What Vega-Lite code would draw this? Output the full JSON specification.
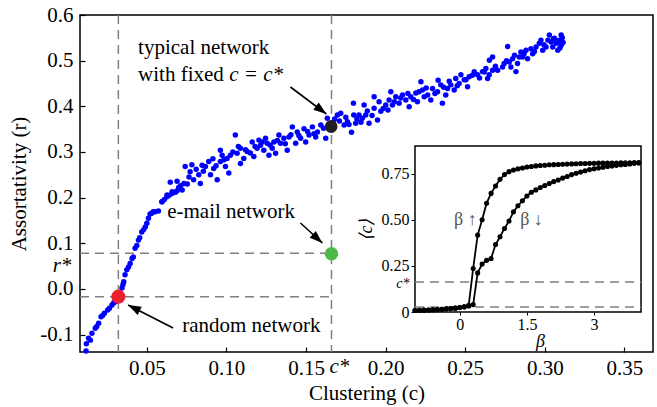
{
 "$schema": "https://vega.github.io/schema/vega-lite/v6.json",
 "width": 573, "height": 337,
 "autosize": {"type": "none"},
 "padding": {"left": 80, "top": 15, "right": 4, "bottom": 55},
 "background": "white",
 "config": {
  "view": {"stroke": "black", "strokeWidth": 1.5},
  "font": "Liberation Serif",
  "axis": {"labelFont": "Liberation Serif", "titleFont": "Liberation Serif", "labelColor": "black", "titleColor": "black", "grid": false, "titleFontWeight": "normal", "tickColor": "black", "labelOverlap": false},
  "text": {"font": "Liberation Serif"}
 },
 "datasets": {
  "pts": [
   {"c":0.0118,"r":-0.136},{"c":0.0120,"r":-0.120},{"c":0.0134,"r":-0.108},{"c":0.0145,"r":-0.112},{"c":0.0155,"r":-0.097},{"c":0.0176,"r":-0.086},{"c":0.0185,"r":-0.082},{"c":0.0197,"r":-0.075},{"c":0.0212,"r":-0.061},{"c":0.0222,"r":-0.058},{"c":0.0233,"r":-0.053},{"c":0.0254,"r":-0.046},{"c":0.0265,"r":-0.042},{"c":0.0281,"r":-0.035},{"c":0.0292,"r":-0.030},{"c":0.0302,"r":-0.028},{"c":0.0344,"r":0.002},{"c":0.0350,"r":0.010},{"c":0.0355,"r":0.016},{"c":0.0363,"r":0.031},{"c":0.0374,"r":0.042},{"c":0.0385,"r":0.048},{"c":0.0395,"r":0.056},{"c":0.0407,"r":0.067},{"c":0.0415,"r":0.070},{"c":0.0426,"r":0.089},{"c":0.0437,"r":0.095},{"c":0.0447,"r":0.107},{"c":0.0455,"r":0.112},{"c":0.0468,"r":0.125},{"c":0.0480,"r":0.130},{"c":0.0490,"r":0.136},{"c":0.0500,"r":0.144},{"c":0.0510,"r":0.155},{"c":0.0520,"r":0.164},{"c":0.0530,"r":0.166},{"c":0.0552,"r":0.169},{"c":0.0573,"r":0.171},{"c":0.0594,"r":0.191},{"c":0.0610,"r":0.196},{"c":0.0626,"r":0.202},{"c":0.0640,"r":0.205},{"c":0.0658,"r":0.209},{"c":0.0690,"r":0.215},
   {"c":0.0540,"r":0.169},{"c":0.0596,"r":0.191},{"c":0.0627,"r":0.206},{"c":0.0659,"r":0.213},{"c":0.0680,"r":0.212},{"c":0.0647,"r":0.234},{"c":0.0690,"r":0.236},{"c":0.0722,"r":0.217},{"c":0.0733,"r":0.231},{"c":0.0754,"r":0.230},{"c":0.0741,"r":0.268},{"c":0.0772,"r":0.257},{"c":0.0783,"r":0.272},{"c":0.0794,"r":0.239},{"c":0.0826,"r":0.250},{"c":0.0836,"r":0.231},{"c":0.0847,"r":0.271},{"c":0.0868,"r":0.268},{"c":0.0889,"r":0.279},{"c":0.0900,"r":0.250},{"c":0.0920,"r":0.264},{"c":0.0942,"r":0.239},{"c":0.0962,"r":0.304},{"c":0.0962,"r":0.279},{"c":0.0973,"r":0.293},{"c":0.0994,"r":0.268},{"c":0.1015,"r":0.254},{"c":0.1004,"r":0.286},{"c":0.1025,"r":0.293},{"c":0.1056,"r":0.337},{"c":0.1067,"r":0.297},{"c":0.1088,"r":0.308},{"c":0.1088,"r":0.275},{"c":0.1109,"r":0.286},{"c":0.1130,"r":0.301},{"c":0.1162,"r":0.322},{"c":0.1172,"r":0.290},{"c":0.1193,"r":0.308},{"c":0.1204,"r":0.326},{"c":0.1214,"r":0.315},{"c":0.1235,"r":0.304},{"c":0.1246,"r":0.330},{"c":0.1256,"r":0.319},{"c":0.1267,"r":0.293},{"c":0.1288,"r":0.308},{"c":0.1298,"r":0.322},{"c":0.1309,"r":0.297},{"c":0.1330,"r":0.337},{"c":0.1340,"r":0.319},{"c":0.1361,"r":0.330},{"c":0.1382,"r":0.304},{"c":0.1393,"r":0.333},{"c":0.1414,"r":0.355},{"c":0.1435,"r":0.319},{"c":0.1445,"r":0.344},{"c":0.1466,"r":0.330},{"c":0.1487,"r":0.351},{"c":0.1498,"r":0.322},{"c":0.1519,"r":0.337},{"c":0.1540,"r":0.355},{"c":0.1561,"r":0.333},{"c":0.1572,"r":0.344},{"c":0.1593,"r":0.359},{"c":0.1624,"r":0.330},{"c":0.1634,"r":0.374},
   {"c":0.0700,"r":0.222},{"c":0.0712,"r":0.226},{"c":0.0765,"r":0.245},{"c":0.0810,"r":0.262},{"c":0.0855,"r":0.258},{"c":0.0915,"r":0.285},{"c":0.0935,"r":0.270},{"c":0.0985,"r":0.283},{"c":0.1040,"r":0.300},{"c":0.1075,"r":0.312},{"c":0.1120,"r":0.305},{"c":0.1150,"r":0.298},{"c":0.1180,"r":0.312},{"c":0.1225,"r":0.322},{"c":0.1275,"r":0.315},{"c":0.1320,"r":0.325},{"c":0.1370,"r":0.318},{"c":0.1405,"r":0.338},{"c":0.1455,"r":0.336},{"c":0.1510,"r":0.345},{"c":0.1550,"r":0.340},{"c":0.1610,"r":0.352},{"c":0.1645,"r":0.360},{"c":0.1660,"r":0.348},{"c":0.1670,"r":0.365},
   {"c":0.1697,"r":0.381},{"c":0.1718,"r":0.385},{"c":0.1739,"r":0.359},{"c":0.1760,"r":0.366},{"c":0.1786,"r":0.343},{"c":0.1798,"r":0.407},{"c":0.1800,"r":0.381},{"c":0.1812,"r":0.363},{"c":0.1833,"r":0.381},{"c":0.1854,"r":0.374},{"c":0.1865,"r":0.403},{"c":0.1875,"r":0.381},{"c":0.1896,"r":0.363},{"c":0.1928,"r":0.421},{"c":0.1928,"r":0.396},{"c":0.1949,"r":0.370},{"c":0.1959,"r":0.410},{"c":0.1970,"r":0.389},{"c":0.2001,"r":0.403},{"c":0.2022,"r":0.414},{"c":0.2033,"r":0.432},{"c":0.2043,"r":0.403},{"c":0.2064,"r":0.421},{"c":0.2085,"r":0.407},{"c":0.2106,"r":0.425},{"c":0.2127,"r":0.414},{"c":0.2148,"r":0.399},{"c":0.2158,"r":0.421},{"c":0.2190,"r":0.429},{"c":0.2200,"r":0.410},{"c":0.2222,"r":0.454},{"c":0.2232,"r":0.436},{"c":0.2243,"r":0.421},{"c":0.2264,"r":0.425},{"c":0.2284,"r":0.414},{"c":0.2295,"r":0.439},{"c":0.2326,"r":0.432},{"c":0.2330,"r":0.457},{"c":0.2347,"r":0.447},{"c":0.2357,"r":0.407},{"c":0.2378,"r":0.425},{"c":0.2389,"r":0.439},{"c":0.2410,"r":0.447},{"c":0.2431,"r":0.436},{"c":0.2441,"r":0.461},{"c":0.2462,"r":0.450},{"c":0.2473,"r":0.469},{"c":0.2494,"r":0.458},{"c":0.2515,"r":0.443},{"c":0.2525,"r":0.465},{"c":0.2557,"r":0.476},{"c":0.2578,"r":0.469},{"c":0.2609,"r":0.476},{"c":0.2630,"r":0.483},{"c":0.2641,"r":0.461},{"c":0.2651,"r":0.469},{"c":0.2672,"r":0.479},{"c":0.2652,"r":0.501},{"c":0.2672,"r":0.508},{"c":0.2704,"r":0.479},{"c":0.2735,"r":0.486},{"c":0.2745,"r":0.494},{"c":0.2767,"r":0.531},{"c":0.2777,"r":0.497},{"c":0.2787,"r":0.486},{"c":0.2798,"r":0.504},{"c":0.2819,"r":0.476},{"c":0.2829,"r":0.494},{"c":0.2840,"r":0.508},{"c":0.2850,"r":0.519},{"c":0.2861,"r":0.508},{"c":0.2882,"r":0.523},{"c":0.2892,"r":0.504},{"c":0.2913,"r":0.526},{"c":0.2924,"r":0.515},{"c":0.2945,"r":0.530},{"c":0.2966,"r":0.538},{"c":0.2976,"r":0.545},{"c":0.2987,"r":0.523},{"c":0.3008,"r":0.530},{"c":0.3029,"r":0.556},{"c":0.3040,"r":0.541},{"c":0.3050,"r":0.530},{"c":0.3061,"r":0.549},{"c":0.3071,"r":0.538},{"c":0.3082,"r":0.523},{"c":0.3092,"r":0.545},{"c":0.3103,"r":0.556},{"c":0.3103,"r":0.534},
   {"c":0.1680,"r":0.372},{"c":0.1710,"r":0.368},{"c":0.1750,"r":0.376},{"c":0.1770,"r":0.360},{"c":0.1820,"r":0.372},{"c":0.1845,"r":0.365},{"c":0.1885,"r":0.390},{"c":0.1915,"r":0.380},{"c":0.1985,"r":0.395},{"c":0.2015,"r":0.392},{"c":0.2055,"r":0.410},{"c":0.2095,"r":0.418},{"c":0.2140,"r":0.428},{"c":0.2175,"r":0.415},{"c":0.2210,"r":0.432},{"c":0.2255,"r":0.440},{"c":0.2310,"r":0.428},{"c":0.2365,"r":0.442},{"c":0.2400,"r":0.455},{"c":0.2450,"r":0.445},{"c":0.2505,"r":0.458},{"c":0.2545,"r":0.468},{"c":0.2590,"r":0.462},{"c":0.2620,"r":0.475},{"c":0.2690,"r":0.488},{"c":0.2760,"r":0.500},{"c":0.2810,"r":0.512},{"c":0.2870,"r":0.515},{"c":0.2935,"r":0.520},{"c":0.2995,"r":0.535},{"c":0.3020,"r":0.545},{"c":0.3055,"r":0.548},{"c":0.3085,"r":0.540},{"c":0.3110,"r":0.550},{"c":0.3115,"r":0.540},{"c":0.3095,"r":0.528}
  ],
  "special": [
   {"name":"random","c":0.0321,"r":-0.0168},
   {"name":"email","c":0.1660,"r":0.0770},
   {"name":"typical","c":0.1658,"r":0.3560}
  ],
  "arrows": [
   {"name":"a1","c":0.1402,"r":0.4423,"c2":0.1628,"r2":0.3832},
   {"name":"a2","c":0.1465,"r":0.1445,"c2":0.1603,"r2":0.1007},
   {"name":"a3","c":0.0665,"r":-0.0854,"c2":0.0382,"r2":-0.0350}
  ],
  "inset": [
   {"dir":"up","b":-1.0,"v":0.008},{"dir":"up","b":-0.9,"v":0.009},{"dir":"up","b":-0.8,"v":0.010},{"dir":"up","b":-0.7,"v":0.011},{"dir":"up","b":-0.6,"v":0.012},{"dir":"up","b":-0.5,"v":0.013},{"dir":"up","b":-0.4,"v":0.015},{"dir":"up","b":-0.3,"v":0.017},{"dir":"up","b":-0.2,"v":0.019},{"dir":"up","b":-0.1,"v":0.021},{"dir":"up","b":0.0,"v":0.024},{"dir":"up","b":0.1,"v":0.028},{"dir":"up","b":0.2,"v":0.036},{"dir":"up","b":0.3,"v":0.236},{"dir":"up","b":0.4,"v":0.417},{"dir":"up","b":0.5,"v":0.500},{"dir":"up","b":0.6,"v":0.590},{"dir":"up","b":0.7,"v":0.643},{"dir":"up","b":0.8,"v":0.683},{"dir":"up","b":0.9,"v":0.720},{"dir":"up","b":1.0,"v":0.745},{"dir":"up","b":1.1,"v":0.761},{"dir":"up","b":1.2,"v":0.770},{"dir":"up","b":1.3,"v":0.776},{"dir":"up","b":1.4,"v":0.781},{"dir":"up","b":1.5,"v":0.786},{"dir":"up","b":1.6,"v":0.789},{"dir":"up","b":1.7,"v":0.792},{"dir":"up","b":1.8,"v":0.794},{"dir":"up","b":1.9,"v":0.796},{"dir":"up","b":2.0,"v":0.798},{"dir":"up","b":2.1,"v":0.799},{"dir":"up","b":2.2,"v":0.800},{"dir":"up","b":2.3,"v":0.801},{"dir":"up","b":2.4,"v":0.802},{"dir":"up","b":2.5,"v":0.803},{"dir":"up","b":2.6,"v":0.804},{"dir":"up","b":2.7,"v":0.805},{"dir":"up","b":2.8,"v":0.805},{"dir":"up","b":2.9,"v":0.806},{"dir":"up","b":3.0,"v":0.806},{"dir":"up","b":3.1,"v":0.807},{"dir":"up","b":3.2,"v":0.807},{"dir":"up","b":3.3,"v":0.808},{"dir":"up","b":3.4,"v":0.808},{"dir":"up","b":3.5,"v":0.808},{"dir":"up","b":3.6,"v":0.809},{"dir":"up","b":3.7,"v":0.809},{"dir":"up","b":3.8,"v":0.809},{"dir":"up","b":3.9,"v":0.810},{"dir":"up","b":4.0,"v":0.810},
   {"dir":"down","b":-1.0,"v":0.008},{"dir":"down","b":-0.9,"v":0.009},{"dir":"down","b":-0.8,"v":0.010},{"dir":"down","b":-0.7,"v":0.011},{"dir":"down","b":-0.6,"v":0.012},{"dir":"down","b":-0.5,"v":0.013},{"dir":"down","b":-0.4,"v":0.015},{"dir":"down","b":-0.3,"v":0.017},{"dir":"down","b":-0.2,"v":0.019},{"dir":"down","b":-0.1,"v":0.021},{"dir":"down","b":0.0,"v":0.024},{"dir":"down","b":0.1,"v":0.028},{"dir":"down","b":0.2,"v":0.033},{"dir":"down","b":0.3,"v":0.040},{"dir":"down","b":0.4,"v":0.212},{"dir":"down","b":0.5,"v":0.260},{"dir":"down","b":0.6,"v":0.280},{"dir":"down","b":0.7,"v":0.290},{"dir":"down","b":0.8,"v":0.366},{"dir":"down","b":0.9,"v":0.408},{"dir":"down","b":1.0,"v":0.453},{"dir":"down","b":1.1,"v":0.493},{"dir":"down","b":1.2,"v":0.543},{"dir":"down","b":1.3,"v":0.576},{"dir":"down","b":1.4,"v":0.603},{"dir":"down","b":1.5,"v":0.629},{"dir":"down","b":1.6,"v":0.649},{"dir":"down","b":1.7,"v":0.662},{"dir":"down","b":1.8,"v":0.675},{"dir":"down","b":1.9,"v":0.686},{"dir":"down","b":2.0,"v":0.697},{"dir":"down","b":2.1,"v":0.707},{"dir":"down","b":2.2,"v":0.716},{"dir":"down","b":2.3,"v":0.726},{"dir":"down","b":2.4,"v":0.735},{"dir":"down","b":2.5,"v":0.745},{"dir":"down","b":2.6,"v":0.752},{"dir":"down","b":2.7,"v":0.759},{"dir":"down","b":2.8,"v":0.766},{"dir":"down","b":2.9,"v":0.772},{"dir":"down","b":3.0,"v":0.777},{"dir":"down","b":3.1,"v":0.781},{"dir":"down","b":3.2,"v":0.785},{"dir":"down","b":3.3,"v":0.789},{"dir":"down","b":3.4,"v":0.792},{"dir":"down","b":3.5,"v":0.795},{"dir":"down","b":3.6,"v":0.798},{"dir":"down","b":3.7,"v":0.800},{"dir":"down","b":3.8,"v":0.803},{"dir":"down","b":3.9,"v":0.806},{"dir":"down","b":4.0,"v":0.808}
  ]
 },
 "layer": [
  {
   "layer": [
    {
     "data": {"name": "pts"},
     "mark": {"type": "circle", "size": 30, "color": "#0000ff", "opacity": 1},
     "encoding": {
      "x": {"field": "c", "type": "quantitative",
       "scale": {"domain": [0.008, 0.368], "nice": false, "zero": false},
       "axis": {"values": [0.05, 0.1, 0.15, 0.2, 0.25, 0.3, 0.35], "format": ".2f", "domain": false, "tickSize": -5, "tickWidth": 1.2, "labelPadding": 10, "labelFontSize": 21, "title": "Clustering (c)", "titleFontSize": 21, "titlePadding": 4}},
      "y": {"field": "r", "type": "quantitative",
       "scale": {"domain": [-0.138, 0.6], "nice": false, "zero": false},
       "axis": {"values": [-0.1, 0, 0.1, 0.2, 0.3, 0.4, 0.5, 0.6], "format": ".1f", "labelExpr": "replace(datum.label, '\u2212', '-')", "domain": false, "tickSize": -5, "tickWidth": 1.2, "labelPadding": 12, "labelFontSize": 21, "title": "Assortativity (r)", "titleFontSize": 21, "titlePadding": 10}}
     }
    },
    {
     "data": {"values": [{"c": 0.0321}, {"c": 0.166}]},
     "mark": {"type": "rule", "color": "#808080", "strokeWidth": 1.5, "strokeDash": [9, 6]},
     "encoding": {"x": {"field": "c", "type": "quantitative"}}
    },
    {
     "data": {"values": [{"c": 0.008, "c2": 0.166, "r": 0.078}, {"c": 0.008, "c2": 0.166, "r": -0.0168}]},
     "mark": {"type": "rule", "color": "#808080", "strokeWidth": 1.5, "strokeDash": [9, 6]},
     "encoding": {"x": {"field": "c", "type": "quantitative"}, "x2": {"field": "c2"}, "y": {"field": "r", "type": "quantitative"}}
    },
    {
     "data": {"name": "arrows"},
     "mark": {"type": "rule", "color": "black", "strokeWidth": 1.6},
     "encoding": {"x": {"field": "c", "type": "quantitative"}, "x2": {"field": "c2"}, "y": {"field": "r", "type": "quantitative"}, "y2": {"field": "r2"}}
    },
    {
     "data": {"name": "arrows"},
     "transform": [{"filter": "datum.name == 'a1'"}],
     "mark": {"type": "point", "shape": "M0,0L-0.45,1.3L0.45,1.3Z", "filled": true, "color": "black", "opacity": 1, "size": 400, "angle": 127},
     "encoding": {"x": {"field": "c2", "type": "quantitative"}, "y": {"field": "r2", "type": "quantitative"}}
    },
    {
     "data": {"name": "arrows"},
     "transform": [{"filter": "datum.name == 'a2'"}],
     "mark": {"type": "point", "shape": "M0,0L-0.45,1.3L0.45,1.3Z", "filled": true, "color": "black", "opacity": 1, "size": 400, "angle": 132},
     "encoding": {"x": {"field": "c2", "type": "quantitative"}, "y": {"field": "r2", "type": "quantitative"}}
    },
    {
     "data": {"name": "arrows"},
     "transform": [{"filter": "datum.name == 'a3'"}],
     "mark": {"type": "point", "shape": "M0,0L-0.45,1.3L0.45,1.3Z", "filled": true, "color": "black", "opacity": 1, "size": 400, "angle": 297},
     "encoding": {"x": {"field": "c2", "type": "quantitative"}, "y": {"field": "r2", "type": "quantitative"}}
    },
    {
     "data": {"name": "special"},
     "mark": {"type": "circle", "opacity": 1},
     "encoding": {
      "x": {"field": "c", "type": "quantitative"},
      "y": {"field": "r", "type": "quantitative"},
      "color": {"field": "name", "type": "nominal", "scale": {"domain": ["random", "email", "typical"], "range": ["#e8222e", "#4cb848", "#231f20"]}, "legend": null},
      "size": {"field": "name", "type": "nominal", "scale": {"domain": ["random", "email", "typical"], "range": [200, 160, 270]}, "legend": null}
     }
    },
    {
     "data": {"values": [
      {"t": "typical network", "c": 0.0445, "r": 0.527},
      {"t": "with fixed", "c": 0.0445, "r": 0.4686},
      {"t": "e-mail network", "c": 0.0628, "r": 0.1675},
      {"t": "random network", "c": 0.0722, "r": -0.080}
     ]},
     "mark": {"type": "text", "align": "left", "baseline": "middle", "fontSize": 21, "color": "black"},
     "encoding": {"x": {"field": "c", "type": "quantitative"}, "y": {"field": "r", "type": "quantitative"}, "text": {"field": "t"}}
    },
    {
     "data": {"values": [
      {"t": "c = c*", "c": 0.1018, "r": 0.4686}
     ]},
     "mark": {"type": "text", "align": "left", "baseline": "middle", "fontSize": 21, "fontStyle": "italic", "color": "black"},
     "encoding": {"x": {"field": "c", "type": "quantitative"}, "y": {"field": "r", "type": "quantitative"}, "text": {"field": "t"}}
    },
    {
     "data": {"values": [
      {"t": "r*", "c": -0.0033, "r": 0.050},
      {"t": "c*", "c": 0.1710, "r": -0.1708}
     ]},
     "mark": {"type": "text", "align": "center", "baseline": "middle", "fontSize": 21, "fontStyle": "italic", "color": "black"},
     "encoding": {"x": {"field": "c", "type": "quantitative"}, "y": {"field": "r", "type": "quantitative"}, "text": {"field": "t"}}
    }
   ]
  },
  {
   "layer": [
    {
     "data": {"values": [{"k": 1}]},
     "mark": {"type": "rect", "fill": "white", "stroke": "black", "strokeWidth": 1.5},
     "encoding": {
      "x": {"datum": -1, "type": "quantitative",
       "scale": {"domain": [-1, 4.05], "range": [335, 561], "nice": false, "zero": false},
       "axis": {"orient": "bottom", "offset": -40, "values": [0, 1.5, 3], "labelExpr": "'' + datum.value", "domain": false, "tickSize": 3, "labelPadding": 1, "labelFontSize": 16, "labelOverlap": false, "title": "β", "titleFontStyle": "italic", "titleFontSize": 18, "titlePadding": 0, "titleX": 460}},
      "x2": {"datum": 4.05},
      "y": {"datum": 0, "type": "quantitative",
       "scale": {"domain": [0, 0.9], "range": [297, 131], "nice": false, "zero": false},
       "axis": {"orient": "left", "offset": -335, "values": [0, 0.163, 0.25, 0.5, 0.75], "labelExpr": "datum.value == 0.163 ? 'c*' : (datum.value == 0 ? '0' : format(datum.value, '.2f'))", "labelFontStyle": {"condition": {"test": "datum.value == 0.163", "value": "italic"}, "value": "normal"}, "labelFontSize": {"condition": {"test": "datum.value == 0.163", "value": 14}, "value": 16}, "labelOffset": {"condition": {"test": "datum.value == 0.163", "value": 2}, "value": 0}, "tickOpacity": {"condition": {"test": "datum.value == 0.163", "value": 0}, "value": 1}, "domain": false, "tickSize": 4, "labelPadding": 2, "labelOverlap": false, "title": "⟨c⟩", "titleFontStyle": "italic", "titleFontSize": 18, "titlePadding": 6}},
      "y2": {"datum": 0.9}
     }
    },
    {
     "data": {"values": [{"v": 0.163}, {"v": 0.027}]},
     "mark": {"type": "rule", "color": "#808080", "strokeWidth": 1.5, "strokeDash": [9, 6]},
     "encoding": {"x": {"datum": -1, "type": "quantitative"}, "x2": {"datum": 4.05}, "y": {"field": "v", "type": "quantitative"}}
    },
    {
     "data": {"name": "inset"},
     "mark": {"type": "line", "color": "black", "strokeWidth": 1.8},
     "encoding": {"x": {"field": "b", "type": "quantitative"}, "y": {"field": "v", "type": "quantitative"}, "detail": {"field": "dir"}}
    },
    {
     "data": {"name": "inset"},
     "mark": {"type": "circle", "color": "black", "size": 26, "opacity": 1},
     "encoding": {"x": {"field": "b", "type": "quantitative"}, "y": {"field": "v", "type": "quantitative"}}
    },
    {
     "data": {"values": [{"t": "β ↑", "b": 0.38, "v": 0.5}]},
     "mark": {"type": "text", "align": "right", "baseline": "middle", "fontSize": 18, "color": "#555555"},
     "encoding": {"x": {"field": "b", "type": "quantitative"}, "y": {"field": "v", "type": "quantitative"}, "text": {"field": "t"}}
    },
    {
     "data": {"values": [{"t": "β ↓", "b": 1.35, "v": 0.5}]},
     "mark": {"type": "text", "align": "left", "baseline": "middle", "fontSize": 18, "color": "#555555"},
     "encoding": {"x": {"field": "b", "type": "quantitative"}, "y": {"field": "v", "type": "quantitative"}, "text": {"field": "t"}}
    }
   ]
  }
 ],
 "resolve": {"scale": {"x": "independent", "y": "independent"}, "axis": {"x": "independent", "y": "independent"}}
}
